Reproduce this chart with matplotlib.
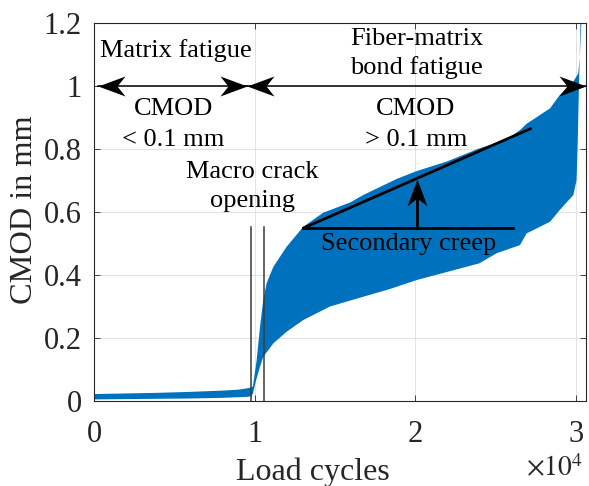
import matplotlib
matplotlib.use('Agg')
import matplotlib.pyplot as plt
from matplotlib.path import Path
import numpy as np

# ---------------- data ----------------
upper_x = [0, 2000, 4000, 6000, 8000, 9000, 9500, 9800, 9900, 10130, 10340, 10540,
           10750, 11170, 12000, 13030, 14280, 15940, 16770, 18850, 20100, 21960,
           24000, 25700, 26530, 26940, 28400, 29000, 29850, 30160, 30260, 30360]
upper_y = [0.022, 0.024, 0.026, 0.029, 0.033, 0.036, 0.040, 0.043, 0.047, 0.13, 0.236, 0.32,
           0.374, 0.426, 0.49, 0.553, 0.598, 0.630, 0.654, 0.705, 0.730, 0.760,
           0.802, 0.83, 0.86, 0.88, 0.929, 0.971, 1.014, 1.04, 1.10, 1.21]

lower_x = [0, 2000, 4000, 6000, 8000, 9000, 9500, 9800, 9900, 10100, 10340, 10540,
           11170, 12000, 13030, 14700, 16770, 18400, 20100, 22600, 24000, 25070,
           26530, 26940, 28400, 29000, 29850, 30050, 30120, 30180, 30240, 30300]
lower_y = [0.005, 0.006, 0.007, 0.008, 0.010, 0.012, 0.013, 0.015, 0.024, 0.067, 0.109, 0.14,
           0.183, 0.22, 0.257, 0.30, 0.331, 0.355, 0.384, 0.418, 0.437, 0.469,
           0.495, 0.532, 0.569, 0.606, 0.654, 0.70, 0.81, 0.95, 1.08, 1.21]

crack_lines_x = [9780, 10570]
crack_lines_top = 0.553

phase_arrow_y = 1.0
phase1_span = [250, 9510]
phase2_span = [9510, 30640]

creep_base_x = [13000, 26070]
creep_base_y = 0.548
creep_slope_x = [13000, 27250]
creep_slope_y = [0.548, 0.866]
creep_arrow_x = 20100
creep_arrow_y = [0.548, 0.704]

x_ticks = [0, 10000, 20000, 30000]
x_tick_labels = ['0', '1', '2', '3']
y_ticks = [0, 0.2, 0.4, 0.6, 0.8, 1.0, 1.2]
y_tick_labels = ['0', '0.2', '0.4', '0.6', '0.8', '1', '1.2']

# ---------------- style ----------------
plt.rcParams['font.family'] = ['Liberation Serif', 'DejaVu Serif']
plt.rcParams['mathtext.fontset'] = 'stix'

BLUE = '#0072BD'
DARK = '#262626'

fig = plt.figure(figsize=(5.89, 4.86), dpi=100)
ax = fig.add_axes([94 / 589, 1 - 401 / 486, 492 / 589, 378 / 486])

poly_x = np.concatenate([upper_x, lower_x[::-1]])
poly_y = np.concatenate([upper_y, lower_y[::-1]])
ax.fill(poly_x, poly_y, color=BLUE, lw=0, zorder=2)

# macro crack opening lines
for xv in crack_lines_x:
    ax.plot([xv, xv], [0, crack_lines_top], color='#3a3a3a', lw=1.1, zorder=3)

# arrowhead markers (MATLAB "vback2" style)
L, W, N = 27.0, 10.0, 19.0
codes = [Path.MOVETO, Path.LINETO, Path.LINETO, Path.LINETO, Path.CLOSEPOLY]
head_right = Path([(0, 0), (-L, W), (-N, 0), (-L, -W), (0, 0)], codes)
head_left = Path([(0, 0), (L, W), (N, 0), (L, -W), (0, 0)], codes)
head_up = Path([(0, 0), (W, -L), (0, -N), (-W, -L), (0, 0)], codes)
MS = 2 * L * 72 / 100


def dbl_arrow(x0, x1, y):
    ax.plot([x0, x1], [y, y], color='black', lw=1.1, zorder=4, clip_on=False)
    ax.plot([x0], [y], marker=head_left, ms=MS, color='black', mew=0, zorder=5, clip_on=False)
    ax.plot([x1], [y], marker=head_right, ms=MS, color='black', mew=0, zorder=5, clip_on=False)


dbl_arrow(phase1_span[0], phase1_span[1], phase_arrow_y)
dbl_arrow(phase2_span[0], phase2_span[1], phase_arrow_y)

# secondary creep construction
ax.plot(creep_base_x, [creep_base_y, creep_base_y], color='black', lw=2.0, zorder=4)
ax.plot(creep_slope_x, creep_slope_y, color='black', lw=2.0, zorder=4,
        solid_capstyle='butt')
ax.plot([creep_arrow_x, creep_arrow_x], [creep_arrow_y[0], creep_arrow_y[1] - 0.03],
        color='black', lw=2.0, zorder=4)
ax.plot([creep_arrow_x], [creep_arrow_y[1]], marker=head_up, ms=MS, color='black',
        mew=0, zorder=5)

# texts
fs = 19
ax.text(5090, 1.091, 'Matrix fatigue', ha='center', va='baseline', fontsize=fs, zorder=6)
ax.text(20090, 1.130, 'Fiber-matrix', ha='center', va='baseline', fontsize=fs, zorder=6)
ax.text(20090, 1.038, 'bond fatigue', ha='center', va='baseline', fontsize=fs, zorder=6)
ax.text(4940, 0.908, 'CMOD', ha='center', va='baseline', fontsize=fs, zorder=6)
ax.text(4940, 0.810, '< 0.1 mm', ha='center', va='baseline', fontsize=fs, zorder=6)
ax.text(20040, 0.908, 'CMOD', ha='center', va='baseline', fontsize=fs, zorder=6)
ax.text(20040, 0.810, '> 0.1 mm', ha='center', va='baseline', fontsize=fs, zorder=6)
ax.text(9870, 0.707, 'Macro crack', ha='center', va='baseline', fontsize=fs, zorder=6)
ax.text(9870, 0.617, 'opening', ha='center', va='baseline', fontsize=fs, zorder=6)
ax.text(19610, 0.479, 'Secondary creep', ha='center', va='baseline', fontsize=fs, zorder=6)

# axes
ax.set_xlim(0, 30640)
ax.set_ylim(0, 1.2)
ax.set_xticks(x_ticks)
ax.set_xticklabels(x_tick_labels)
ax.set_yticks(y_ticks)
ax.set_yticklabels(y_tick_labels)
ax.tick_params(direction='in', length=4.5, width=0.6, top=True, right=True,
               colors=DARK, labelsize=22)
ax.tick_params(axis='x', pad=13.5)
ax.tick_params(axis='y', pad=9)
ax.grid(True, color='#DEDEDE', lw=0.6)
ax.set_axisbelow(True)
for sp in ax.spines.values():
    sp.set_color(DARK)
    sp.set_linewidth(0.8)

ax.set_xlabel('Load cycles', fontsize=23, color=DARK)
ax.xaxis.set_label_coords(0.444, -0.150)
ax.set_ylabel('CMOD in mm', fontsize=23.3, color=DARK)
ax.yaxis.set_label_coords(-0.112, 0.505)
ax.text(0.995, -0.200, r'$\times 10^{4}$', transform=ax.transAxes, ha='right',
        va='baseline', fontsize=20, color=DARK)

fig.savefig('out.png', dpi=100)
